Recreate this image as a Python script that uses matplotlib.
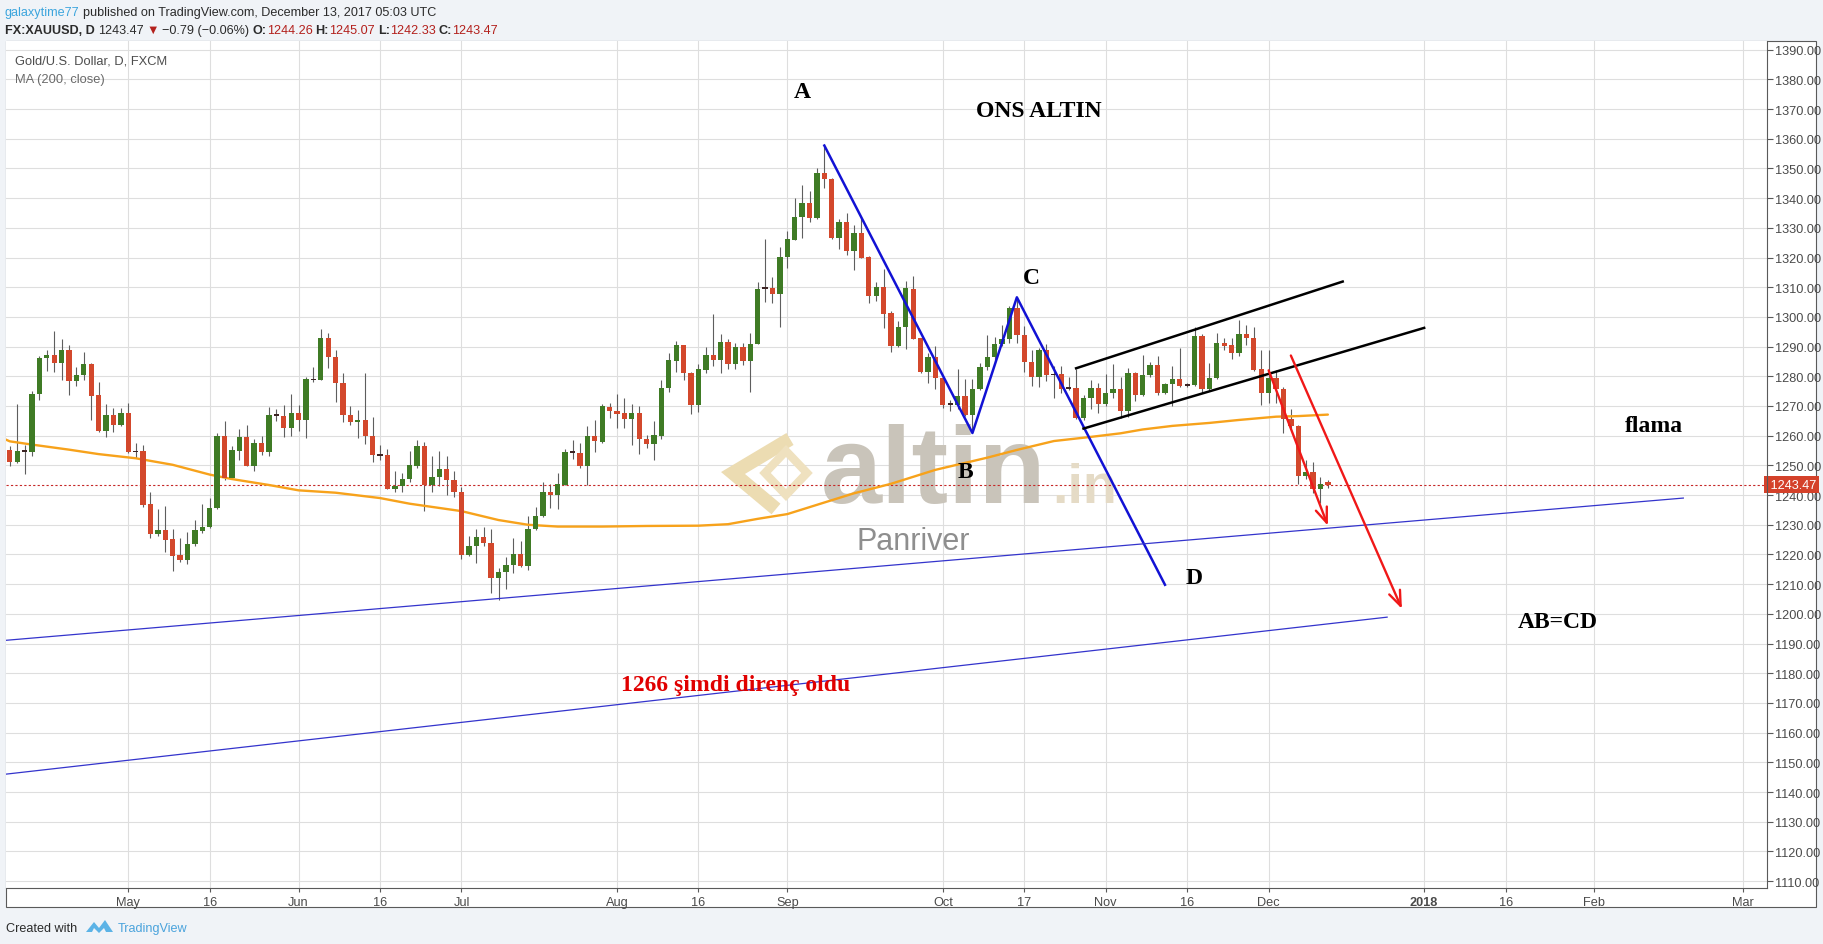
#!/usr/bin/env python3
import numpy as np
import pandas as pd
import matplotlib
matplotlib.use('Agg')
import matplotlib.pyplot as plt
import matplotlib.transforms as mtransforms
from matplotlib import font_manager
from matplotlib.lines import Line2D
from matplotlib.patches import Rectangle, Polygon

W, H = 1824, 945

# ---- daily XAUUSD candles (first bar 2017-04-07, weekdays only)
first_day = '2017-04-07'
opens = [
    1255.3, 1251.3, 1254.9, 1254.4, 1274.0, 1286.2, 1287.2, 1284.4, 1288.9, 1278.3,
    1280.3, 1284.3, 1273.8, 1261.5, 1267.1, 1263.7, 1267.8, 1254.8, 1254.7, 1236.9,
    1227.0, 1228.3, 1225.2, 1219.9, 1218.0, 1223.4, 1227.8, 1229.1, 1235.5, 1260.0,
    1245.7, 1254.9, 1259.4, 1249.9, 1257.5, 1254.4, 1267.0, 1266.7, 1262.5, 1267.6,
    1265.4, 1279.0, 1278.9, 1292.9, 1286.5, 1277.8, 1267.0, 1264.5, 1265.4, 1260.0,
    1253.4, 1253.6, 1242.2, 1242.9, 1245.4, 1249.9, 1256.6, 1243.4, 1246.0, 1248.9,
    1245.1, 1241.2, 1219.7, 1222.9, 1225.8, 1223.8, 1212.0, 1214.0, 1216.3, 1220.2,
    1216.0, 1228.5, 1232.8, 1241.2, 1239.9, 1243.5, 1254.5, 1254.2, 1249.7, 1260.0,
    1257.9, 1269.7, 1268.4, 1267.8, 1265.7, 1267.5, 1259.0, 1257.1, 1259.9, 1275.9,
    1285.2, 1290.4, 1281.2, 1270.2, 1282.1, 1287.1, 1285.5, 1291.6, 1284.3, 1289.7,
    1285.2, 1291.0, 1309.7, 1309.6, 1307.6, 1320.3, 1326.0, 1333.5, 1338.5, 1333.4,
    1348.4, 1346.6, 1326.4, 1332.0, 1322.2, 1328.4, 1320.3, 1306.9, 1310.2, 1301.2,
    1290.2, 1296.7, 1309.4, 1292.9, 1281.3, 1286.5, 1279.4, 1270.6, 1270.4, 1273.3,
    1266.9, 1275.7, 1283.1, 1286.5, 1290.8, 1292.4, 1303.0, 1294.0, 1284.8, 1279.7,
    1288.7, 1280.5, 1280.8, 1276.0, 1276.1, 1266.0, 1272.7, 1276.1, 1270.8, 1274.4,
    1275.7, 1268.4, 1281.0, 1273.7, 1280.3, 1283.8, 1274.5, 1277.3, 1279.0, 1277.0,
    1277.1, 1293.6, 1275.6, 1279.3, 1291.1, 1290.6, 1288.0, 1294.3, 1293.0, 1282.4,
    1274.5, 1279.3, 1275.6, 1265.5, 1263.3, 1246.5, 1247.9, 1241.9, 1244.26]
highs = [
    1256.4, 1270.7, 1257.0, 1274.9, 1286.7, 1288.7, 1295.4, 1292.4, 1290.6, 1283.1,
    1288.3, 1284.6, 1278.1, 1270.7, 1269.4, 1269.2, 1271.0, 1257.5, 1257.0, 1241.0,
    1235.3, 1236.4, 1228.5, 1225.5, 1227.5, 1231.7, 1236.9, 1239.0, 1260.9, 1265.1,
    1256.4, 1262.4, 1263.7, 1258.9, 1259.8, 1269.6, 1269.1, 1270.4, 1274.2, 1270.2,
    1279.7, 1283.2, 1296.0, 1294.6, 1288.8, 1281.1, 1269.9, 1268.8, 1281.1, 1266.3,
    1256.9, 1255.5, 1248.0, 1247.6, 1254.9, 1258.7, 1257.9, 1253.3, 1254.9, 1253.3,
    1248.2, 1242.7, 1226.3, 1228.5, 1229.4, 1228.5, 1215.6, 1219.3, 1225.5, 1224.4,
    1232.8, 1236.0, 1244.3, 1243.8, 1247.4, 1255.5, 1258.7, 1257.5, 1263.4, 1265.4,
    1270.7, 1271.0, 1274.0, 1272.8, 1270.8, 1270.0, 1260.1, 1265.0, 1278.7, 1287.8,
    1291.9, 1290.6, 1281.5, 1284.0, 1290.0, 1300.9, 1294.2, 1292.7, 1291.3, 1291.3,
    1294.7, 1311.8, 1326.2, 1313.6, 1323.7, 1329.0, 1339.9, 1344.4, 1342.5, 1350.0,
    1357.6, 1346.8, 1332.9, 1334.9, 1330.9, 1333.5, 1320.5, 1311.8, 1316.1, 1302.0,
    1298.7, 1312.1, 1313.7, 1293.0, 1287.9, 1290.1, 1279.6, 1272.1, 1282.5, 1279.1,
    1279.1, 1284.5, 1294.0, 1293.3, 1297.4, 1303.8, 1305.8, 1296.9, 1289.0, 1289.6,
    1290.9, 1283.4, 1283.4, 1279.8, 1282.5, 1273.8, 1278.9, 1277.8, 1280.9, 1284.0,
    1279.7, 1282.7, 1281.6, 1287.2, 1284.9, 1286.9, 1277.9, 1283.3, 1289.4, 1277.6,
    1296.5, 1294.3, 1284.4, 1294.5, 1292.8, 1292.8, 1299.0, 1297.3, 1296.5, 1288.9,
    1288.9, 1282.1, 1276.3, 1268.9, 1263.5, 1251.8, 1251.2, 1246.2, 1245.07]
lows = [
    1249.7, 1250.8, 1247.1, 1253.3, 1271.9, 1281.9, 1281.3, 1278.8, 1273.6, 1276.6,
    1278.7, 1265.4, 1261.2, 1259.4, 1261.1, 1263.1, 1254.2, 1252.5, 1236.0, 1225.5,
    1226.1, 1220.7, 1214.3, 1217.6, 1216.9, 1222.9, 1227.4, 1228.9, 1235.3, 1245.2,
    1245.5, 1251.7, 1249.7, 1248.0, 1253.6, 1253.0, 1264.8, 1259.4, 1259.8, 1261.5,
    1259.2, 1278.0, 1278.6, 1282.8, 1271.2, 1264.5, 1263.7, 1259.2, 1257.3, 1251.3,
    1251.7, 1242.0, 1241.2, 1240.9, 1244.3, 1249.1, 1234.8, 1241.2, 1243.1, 1239.9,
    1239.3, 1218.4, 1219.5, 1217.3, 1222.7, 1207.2, 1204.7, 1208.3, 1213.7, 1215.8,
    1214.8, 1228.3, 1232.6, 1235.6, 1235.3, 1243.3, 1252.1, 1249.1, 1243.4, 1254.4,
    1257.5, 1266.0, 1262.6, 1262.7, 1256.7, 1254.0, 1255.8, 1251.8, 1259.0, 1274.7,
    1281.5, 1278.8, 1267.2, 1268.0, 1281.0, 1283.5, 1281.0, 1282.4, 1282.6, 1283.7,
    1274.7, 1290.8, 1305.1, 1304.6, 1296.6, 1316.6, 1325.8, 1326.4, 1331.8, 1332.9,
    1343.3, 1326.2, 1322.8, 1320.9, 1315.8, 1319.7, 1304.6, 1305.4, 1296.4, 1288.2,
    1290.0, 1289.3, 1292.4, 1281.0, 1277.8, 1275.7, 1269.3, 1268.2, 1269.0, 1266.5,
    1261.5, 1275.5, 1282.2, 1284.7, 1290.3, 1291.2, 1291.2, 1281.3, 1276.9, 1276.4,
    1278.3, 1272.7, 1274.4, 1275.5, 1265.6, 1265.4, 1269.0, 1267.6, 1269.9, 1272.7,
    1265.8, 1266.4, 1271.8, 1273.5, 1279.9, 1273.7, 1274.0, 1270.0, 1276.5, 1276.3,
    1276.9, 1274.3, 1275.4, 1279.0, 1288.7, 1285.7, 1286.9, 1290.6, 1281.9, 1270.3,
    1271.1, 1271.1, 1261.0, 1262.5, 1243.9, 1245.3, 1240.8, 1237.2, 1242.33]
closes = [
    1251.3, 1254.9, 1254.7, 1274.2, 1286.2, 1287.2, 1284.4, 1288.9, 1278.3, 1280.4,
    1284.3, 1273.5, 1261.5, 1267.1, 1263.7, 1267.8, 1254.5, 1254.6, 1236.7, 1227.0,
    1228.3, 1224.9, 1219.6, 1218.0, 1223.6, 1228.1, 1229.2, 1235.6, 1260.0, 1245.7,
    1255.3, 1259.4, 1249.9, 1257.5, 1254.4, 1267.1, 1266.8, 1262.5, 1267.6, 1265.4,
    1279.2, 1278.8, 1292.9, 1286.5, 1277.8, 1266.9, 1264.5, 1265.4, 1259.8, 1253.4,
    1253.6, 1242.2, 1243.1, 1245.4, 1250.2, 1256.6, 1243.4, 1246.2, 1248.9, 1245.1,
    1241.2, 1219.7, 1222.9, 1225.8, 1223.8, 1212.0, 1214.0, 1216.5, 1220.2, 1216.0,
    1228.5, 1233.0, 1241.2, 1239.9, 1243.7, 1254.5, 1254.3, 1249.7, 1260.0, 1258.1,
    1269.9, 1268.2, 1267.4, 1265.7, 1267.5, 1259.0, 1257.1, 1260.1, 1276.2, 1285.4,
    1290.4, 1281.2, 1270.2, 1282.4, 1287.1, 1285.5, 1291.6, 1284.3, 1289.7, 1285.2,
    1291.0, 1309.3, 1309.5, 1307.6, 1320.3, 1326.2, 1333.5, 1338.5, 1333.4, 1348.4,
    1346.6, 1326.4, 1332.0, 1322.2, 1328.4, 1320.0, 1306.9, 1310.2, 1300.9, 1290.2,
    1296.7, 1309.6, 1292.6, 1281.3, 1286.5, 1279.4, 1270.4, 1270.8, 1273.3, 1266.9,
    1275.7, 1283.1, 1286.5, 1291.0, 1292.6, 1303.0, 1294.0, 1284.8, 1279.7, 1288.7,
    1280.6, 1280.7, 1275.7, 1276.2, 1266.0, 1272.7, 1276.1, 1270.8, 1274.4, 1275.7,
    1268.4, 1281.0, 1273.7, 1280.3, 1283.8, 1274.5, 1277.3, 1279.0, 1276.7, 1277.1,
    1293.6, 1275.6, 1279.3, 1291.1, 1290.2, 1288.0, 1294.3, 1293.0, 1282.1, 1274.5,
    1279.3, 1275.6, 1265.5, 1263.3, 1246.5, 1247.9, 1241.9, 1243.9, 1243.47]

# MA(200, close) as drawn
ma_dates = ['2017-04-06', '2017-04-07', '2017-04-12', '2017-04-19', '2017-04-25',
            '2017-05-02', '2017-05-09', '2017-05-16', '2017-05-19', '2017-05-26',
            '2017-06-01', '2017-06-08', '2017-06-16', '2017-06-22', '2017-07-03',
            '2017-07-10', '2017-07-14', '2017-07-20', '2017-07-28', '2017-08-07',
            '2017-08-16', '2017-08-22', '2017-08-28', '2017-09-01', '2017-09-08',
            '2017-09-14', '2017-09-21', '2017-09-29', '2017-10-10', '2017-10-16',
            '2017-10-23', '2017-10-30', '2017-11-03', '2017-11-08', '2017-11-14',
            '2017-11-21', '2017-11-27', '2017-12-04', '2017-12-07', '2017-12-13']
ma_vals = [1259.2, 1258.1, 1257.0, 1255.3, 1253.8, 1252.4, 1250.2, 1246.9, 1245.4, 1243.4,
           1241.6, 1240.8, 1239.0, 1237.1, 1234.6, 1231.6, 1230.0, 1229.4, 1229.4, 1229.6,
           1229.7, 1230.2, 1232.0, 1233.6, 1237.5, 1240.6, 1243.8, 1248.5, 1252.6, 1255.2,
           1258.2, 1259.6, 1260.8, 1262.1, 1263.3, 1264.3, 1265.3, 1266.4, 1266.6, 1267.1]

last_price = 1243.47

tick_dates = ['2017-05-01', '2017-05-16', '2017-06-01', '2017-06-16', '2017-07-03',
              '2017-08-01', '2017-08-16', '2017-09-01', '2017-10-02', '2017-10-17',
              '2017-11-01', '2017-11-16', '2017-12-01', '2018-01-01', '2018-01-16',
              '2018-02-01', '2018-03-01']
tick_labels = ['May', '16', 'Jun', '16', 'Jul', 'Aug', '16', 'Sep', 'Oct', '17',
               'Nov', '16', 'Dec', '2018', '16', 'Feb', 'Mar']

# drawings of the author (anchored on date / price)
abcd_dates = ['2017-09-08', '2017-10-06', '2017-10-16', '2017-11-13']
abcd_prices = [1357.7, 1260.9, 1306.6, 1209.8]
chan_top_dates = ['2017-10-26', '2017-12-15']
chan_top_prices = [1282.7, 1311.9]
chan_bot_dates = ['2017-10-27', '2018-01-01']
chan_bot_prices = [1262.4, 1296.3]
trend1_dates = ['2017-04-06', '2018-02-19']
trend1_prices = [1191.0, 1239.0]
trend2_dates = ['2017-04-06', '2017-12-25']
trend2_prices = [1145.9, 1198.9]
arrow_short_dates = ['2017-12-01', '2017-12-13']
arrow_short_prices = [1282.0, 1229.7]
arrow_long_dates = ['2017-12-06', '2017-12-27']
arrow_long_prices = [1287.0, 1201.7]

note_texts = ['A', 'B', 'C', 'D', 'ONS ALTIN', 'flama', 'AB=CD', '1266 şimdi direnç oldu']
note_dates = ['2017-09-05', '2017-10-05', '2017-10-18', '2017-11-17', '2017-10-19',
              '2018-02-13', '2018-01-25', '2017-08-23']
note_prices = [1375.8, 1248.0, 1313.4, 1212.4, 1369.4, 1263.4, 1197.4, 1176.1]
note_colors = ['black'] * 7 + ['#e00000']

# ---- bar positions (weekdays, TradingView style)
days = pd.bdate_range('2017-04-03', '2018-03-30')
day0 = days.get_loc(pd.Timestamp(first_day))


def bx(dates):
    return np.array([days.get_loc(pd.Timestamp(d)) - day0 for d in dates], dtype=float)


installed = {f.name for f in font_manager.fontManager.ttflist}
has_narrow = 'Liberation Sans Narrow' in installed
SANS = ['Liberation Sans', 'DejaVu Sans']
NARROW = (['Liberation Sans Narrow'] if has_narrow else []) + SANS
HEAD_SIZE = 11.0 if has_narrow else 9.1
AXIS_SIZE = 11.0 if has_narrow else 9.2
SERIF = ['Liberation Serif', 'DejaVu Serif']
UP, DN, DOJI = '#3f7b25', '#d3482c', '#3d2424'
BG = '#f0f3f7'

fig = plt.figure(figsize=(W / 100, H / 100), dpi=100, facecolor=BG)
px = mtransforms.Affine2D().scale(1 / W, -1 / H).translate(0, 1) + fig.transFigure

# chart panel
fig.add_artist(Rectangle((6, 42), 1810, 866, transform=px, fc='white', ec='#5a5a5a', lw=0.8, zorder=0))

ax = fig.add_axes([6 / W, 1 - 889 / H, (1767 - 6) / W, (889 - 42) / H])
ax.set_facecolor('white')
ax.set_xlim(-0.51, 237.3)
ax.set_ylim(1107.7, 1392.9)
for s in ax.spines.values():
    s.set_visible(False)
ax.set_axisbelow(True)

ax.yaxis.tick_right()
ax.set_yticks(np.arange(1110, 1391, 10))
ax.yaxis.set_major_formatter(matplotlib.ticker.FormatStrFormatter('%.2f'))
ax.set_xticks(bx(tick_dates))
ax.set_xticklabels(tick_labels)
ax.tick_params(axis='y', direction='out', length=4, width=0.8, color='#5a5a5a', pad=2,
               labelsize=AXIS_SIZE, labelcolor='#4a4a4a')
ax.tick_params(axis='x', direction='out', length=3, width=0.8, color='#5a5a5a', pad=3,
               labelsize=AXIS_SIZE, labelcolor='#4a4a4a')
for t in ax.get_xticklabels() + ax.get_yticklabels():
    t.set_family(NARROW)
    if t.get_text() == '2018':
        t.set_fontweight('bold')
ax.grid(True, color='#dedede', lw=0.8)

# frame separators
fig.add_artist(Line2D([1767, 1767], [42, 889], transform=px, color='#5a5a5a', lw=0.8, zorder=5))
fig.add_artist(Line2D([6, 1767], [889, 889], transform=px, color='#5a5a5a', lw=0.8, zorder=5))

# ---- watermark (altin.in / Panriver)
chevron = [(790, 440), (733, 474), (776, 510)]
diamond = [(786, 452), (807, 474), (786, 496), (765, 474)]
ax.add_patch(Polygon(chevron, closed=False, transform=px, fc='none', ec='#ecdcb2', lw=10,
                     joinstyle='miter', zorder=0.8, clip_on=False))
ax.add_patch(Polygon(diamond, closed=True, transform=px, fc='none', ec='#efe1bf', lw=6,
                     joinstyle='miter', zorder=0.8, clip_on=False))
ax.text(821, 503, 'altin', transform=px, fontsize=79, fontweight='bold', family=SANS,
        color='#c9c4ba', va='baseline', ha='left', zorder=0.8)
ax.text(1052, 503, '.in', transform=px, fontsize=40, fontweight='bold', family=SANS,
        color='#e5dbc6', va='baseline', ha='left', zorder=0.8)
ax.text(857, 550, 'Panriver', transform=px, fontsize=22, family=SANS,
        color='#8e8e8e', va='baseline', ha='left', zorder=0.8)

# ---- candles
x = np.arange(len(opens))
o = np.array(opens)
c = np.array(closes)
h = np.maximum(np.array(highs), np.maximum(o, c))
l = np.minimum(np.array(lows), np.minimum(o, c))
up = c > o + 0.3
dn = c < o - 0.3
dj = ~(up | dn)
ax.vlines(x, l, h, color='#5e5e5e', lw=0.8, zorder=3)
ax.bar(x[up], (c - o)[up], bottom=o[up], width=0.72, color=UP, lw=0, zorder=4)
ax.bar(x[dn], (o - c)[dn], bottom=c[dn], width=0.72, color=DN, lw=0, zorder=4)
ax.bar(x[dj], 0.6, bottom=((o + c) / 2)[dj] - 0.3, width=0.72, color=DOJI, lw=0, zorder=4)

# moving average
ax.plot(bx(ma_dates), ma_vals, color='#f7a21b', lw=1.7, zorder=3.5, solid_capstyle='round')

# last price line + label
ax.axhline(last_price, color='#c62828', lw=0.8, ls=(0, (2, 2)), zorder=3)
ax.text(1.0, last_price, ' %.2f' % last_price, transform=ax.get_yaxis_transform(),
        ha='left', va='center', fontsize=AXIS_SIZE, color='white', family=NARROW, clip_on=False,
        zorder=10, bbox=dict(boxstyle='square,pad=0.2', fc='#d4412a', ec='none'))

# ---- drawings
ax.plot(bx(abcd_dates), abcd_prices, color='#1212d4', lw=1.8, zorder=6)
ax.plot(bx(chan_top_dates), chan_top_prices, color='black', lw=1.8, zorder=6)
ax.plot(bx(chan_bot_dates), chan_bot_prices, color='black', lw=1.8, zorder=6)
ax.plot(bx(trend1_dates), trend1_prices, color='#3434cc', lw=0.9, zorder=6)
ax.plot(bx(trend2_dates), trend2_prices, color='#3434cc', lw=0.9, zorder=6)
for ds, ps in [(arrow_short_dates, arrow_short_prices), (arrow_long_dates, arrow_long_prices)]:
    xs = bx(ds)
    ax.annotate('', xy=(xs[1], ps[1]), xytext=(xs[0], ps[0]), zorder=7,
                arrowprops=dict(arrowstyle='->,head_length=0.9,head_width=0.35', color='#f01818',
                                lw=1.7, shrinkA=0, shrinkB=0, mutation_scale=12))

for txt, xd, yp, col in zip(note_texts, bx(note_dates), note_prices, note_colors):
    ax.text(xd, yp, txt, ha='center', va='center', fontsize=17, fontweight='bold',
            family=SERIF, color=col, zorder=8)

# ---- legend inside the chart
fig.text(15, 62, 'Gold/U.S. Dollar, D, FXCM', transform=px, fontsize=9.3, family=SANS,
         color='#4d4d4d', va='center', ha='left', zorder=9)
fig.text(15, 80, 'MA (200, close)', transform=px, fontsize=9.3, family=SANS,
         color='#6a6a6a', va='center', ha='left', zorder=9)

# ---- header and footer
renderer = fig.canvas.get_renderer()


def runs(x0, y0, parts, size):
    xx = x0
    space = size * 0.25 * 100 / 72
    for s, col, wt, gap in parts:
        t = fig.text(xx, y0, s, transform=px, fontsize=size, color=col, fontweight=wt,
                     family=NARROW, va='baseline', ha='left')
        xx += t.get_window_extent(renderer=renderer).width + (space if gap else 0)


DARK, RED = '#2b2b2b', '#b3201c'
runs(5, 16, [('galaxytime77', '#3ca5dd', 'normal', True),
             ('published on TradingView.com, December 13, 2017 05:03 UTC', DARK, 'normal', False)],
     HEAD_SIZE)
runs(5, 34, [('FX:XAUUSD, D', DARK, 'bold', True), ('1243.47', DARK, 'normal', True),
             ('▼', RED, 'normal', True), ('−0.79 (−0.06%)', DARK, 'normal', True),
             ('O:', DARK, 'bold', False), ('1244.26', RED, 'normal', True),
             ('H:', DARK, 'bold', False), ('1245.07', RED, 'normal', True),
             ('L:', DARK, 'bold', False), ('1242.33', RED, 'normal', True),
             ('C:', DARK, 'bold', False), ('1243.47', RED, 'normal', False)], HEAD_SIZE)

fig.text(6, 932, 'Created with', transform=px, fontsize=HEAD_SIZE, family=NARROW, color=DARK,
         va='baseline', ha='left')
fig.add_artist(Polygon([(86, 933), (94, 923), (99, 929), (105, 921), (113, 933), (106, 933),
                        (104, 929), (99, 934), (94, 929), (92, 933)], closed=True, transform=px,
                       fc='#5cb3e6', ec='none'))
fig.text(118, 932, 'TradingView', transform=px, fontsize=HEAD_SIZE, family=NARROW, color='#4aa3dc',
         va='baseline', ha='left')

fig.savefig('out.png', dpi=100, facecolor=BG)
